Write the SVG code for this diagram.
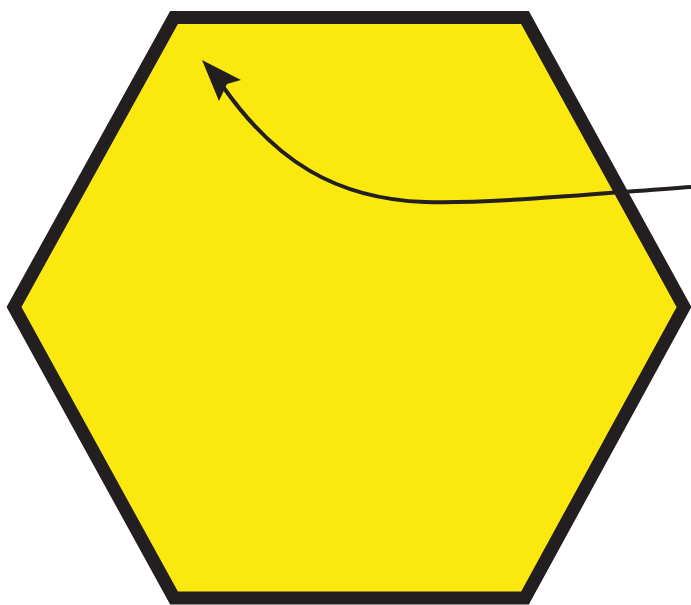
<svg xmlns="http://www.w3.org/2000/svg" width="691" height="605" viewBox="0 0 691 605">
<style>
.hex{fill:#FAE80F;stroke:#231F20;stroke-width:13;stroke-linejoin:miter}
.con{fill:none;stroke:#231F20;stroke-width:4;stroke-linecap:butt}
.head{fill:#231F20}
</style>
<rect width="691" height="605" fill="#ffffff"/>
<g id="hexagon">
<polygon class="hex" points="174,17.5 525,17.5 684,307 525,598 174,598 14,307"/>
</g>
<g id="connectors">
<path class="con" d="M691,187 C570,196 480,204 425,202 C335,199 275,160 224,88"/>
<polygon class="head" points="202,60 241,80 227,84 219,101"/>
</g>
</svg>
